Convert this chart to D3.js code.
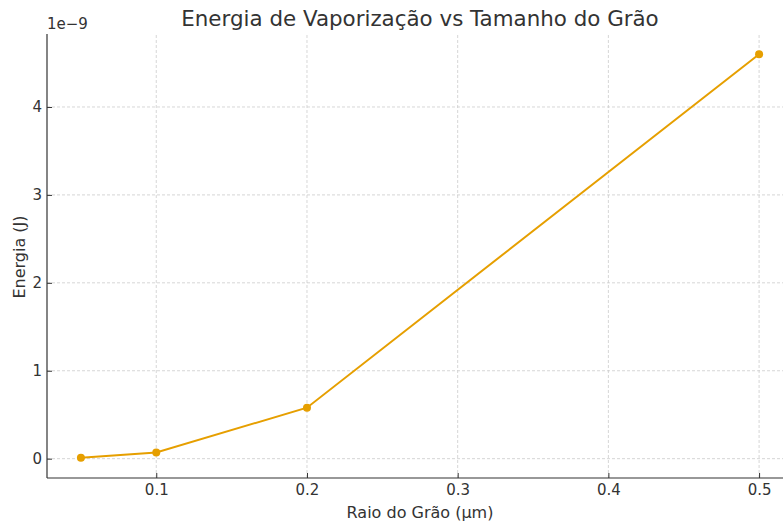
<!DOCTYPE html>
<meta charset="utf-8">
<style>
    body { margin: 0; background: #fff; }
    text { font-family: "DejaVu Sans", sans-serif; fill: #333; }
    .grid line { stroke: #ccc; stroke-width: 0.8px; stroke-dasharray: 3,2; }
    .axis path, .axis line { stroke: #333; }
    .axis text { font-size: 15px; fill: #333; font-family: "DejaVu Sans", sans-serif; }
</style>
<body>
<script src="https://cdn.jsdelivr.net/npm/d3@7"></script>
<script>
    var raio = [0.05, 0.1, 0.2, 0.5];
    var energia = [0.01, 0.07, 0.58, 4.6]; // x 1e-9 J
    var xTicks = [0.1, 0.2, 0.3, 0.4, 0.5];
    var yTicks = [0, 1, 2, 3, 4];

    var W = 783, H = 524;
    var m = {left: 47, top: 34, right: -10, bottom: 46};

    var svg = d3.select("body").append("svg").attr("width", W).attr("height", H);

    var x = d3.scaleLinear().domain([0.0275, 0.5225]).range([m.left, W - m.right]);
    var y = d3.scaleLinear().domain([-0.22, 4.83]).range([H - m.bottom, m.top]);

    // grid
    svg.append("g").attr("class", "grid")
        .selectAll("line.v").data(xTicks).enter().append("line")
        .attr("x1", d => x(d)).attr("x2", d => x(d))
        .attr("y1", y.range()[0]).attr("y2", y.range()[1]);
    svg.append("g").attr("class", "grid")
        .selectAll("line.h").data(yTicks).enter().append("line")
        .attr("y1", d => y(d)).attr("y2", d => y(d))
        .attr("x1", m.left).attr("x2", W);

    // axes (ticks point inward)
    svg.append("g").attr("class", "axis")
        .attr("transform", "translate(0," + (H - m.bottom) + ")")
        .call(d3.axisBottom(x).tickValues(xTicks).tickSize(-5).tickPadding(6).tickFormat(d3.format(".1f")))
        .call(g => g.select(".domain").attr("d", "M" + m.left + ",0H" + W).attr("stroke-width", 1.2));
    svg.append("g").attr("class", "axis")
        .attr("transform", "translate(" + m.left + ",0)")
        .call(d3.axisLeft(y).tickValues(yTicks).tickSize(-5).tickPadding(5).tickFormat(d3.format("d")))
        .call(g => g.select(".domain").attr("d", "M0," + y.range()[0] + "V" + y.range()[1]).attr("stroke-width", 1.2));

    // line + points
    var pts = raio.map((r, i) => [r, energia[i]]);
    svg.append("path").datum(pts)
        .attr("fill", "none").attr("stroke", "#E69F00").attr("stroke-width", 2)
        .attr("d", d3.line().x(d => x(d[0])).y(d => y(d[1])));
    svg.selectAll("circle").data(pts).enter().append("circle")
        .attr("cx", d => x(d[0])).attr("cy", d => y(d[1])).attr("r", 4)
        .attr("fill", "#E69F00");

    // labels
    svg.append("text").attr("x", 47).attr("y", 29).attr("font-size", "15px").text("1e\u22129");
    svg.append("text").attr("x", 420).attr("y", 26).attr("text-anchor", "middle")
        .attr("font-size", "21.4px").text("Energia de Vaporização vs Tamanho do Grão");
    svg.append("text").attr("x", 420).attr("y", 518).attr("text-anchor", "middle")
        .attr("font-size", "16px").text("Raio do Grão (μm)");
    svg.append("text").attr("transform", "translate(25,257) rotate(-90)").attr("text-anchor", "middle")
        .attr("font-size", "16px").text("Energia (J)");
</script>
</body>
</html>
